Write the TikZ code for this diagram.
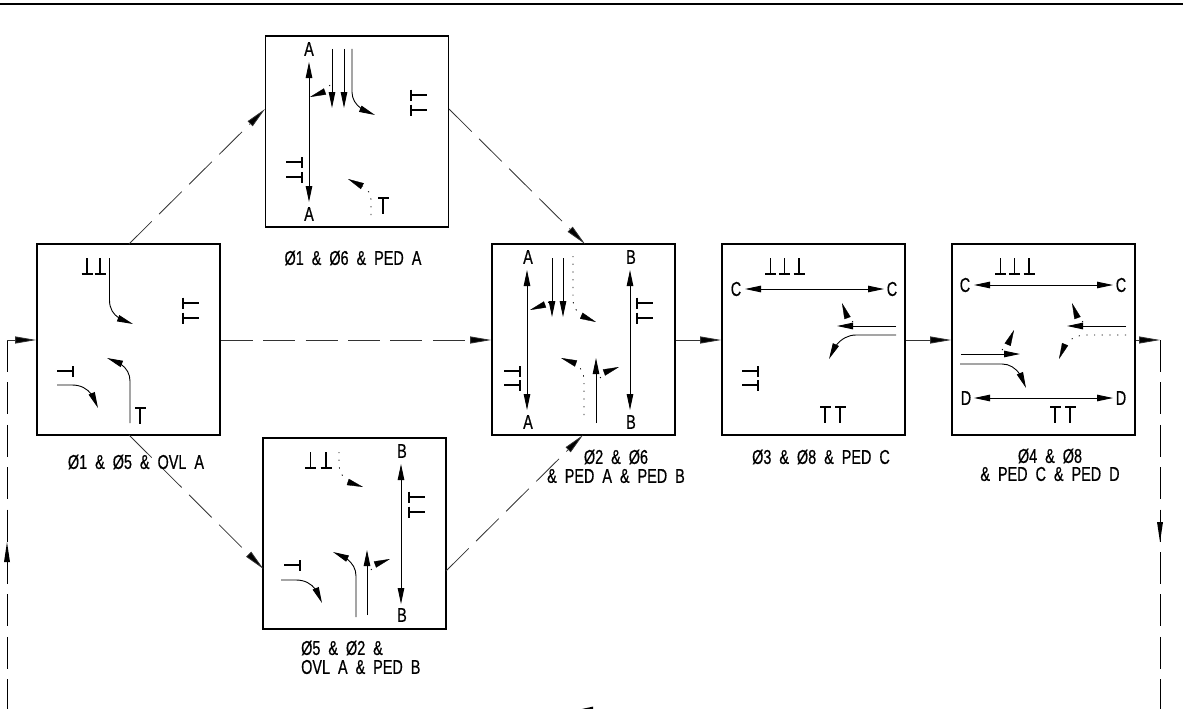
\documentclass[tikz,border=0pt]{standalone}
\usepackage{fontspec}
\setmainfont[FakeStretch=0.72,FakeBold=0.6]{Liberation Sans}
\usetikzlibrary{arrows.meta,bending}
\tikzset{
  x=1pt,y=-1pt,
  panel/.style={draw=black,line width=1.6pt,minimum width=183pt,minimum height=191pt,inner sep=0pt},
  capt/.style={font=\fontsize{20}{20}\selectfont,inner sep=0pt,anchor=center,text=black},
  letter/.style={font=\fontsize{20}{20}\selectfont,inner sep=0pt,anchor=center},
  flow/.style={line width=.8pt,draw=black!80,-{Triangle[length=21pt,width=7pt,fill=black]}},
  dashflow/.style={flow,dash pattern=on 32pt off 10.4pt},
  lane/.style={line width=.9pt,-{Triangle[length=16pt,width=6.5pt,flex=.8]}},
  twoway/.style={line width=.9pt,{Triangle[length=16pt,width=6.5pt]}-{Triangle[length=16pt,width=6.5pt]}},
  dotlane/.style={line width=.8pt,dash pattern=on 1.2pt off 6.5pt},
  headonly/.style={line width=.3pt,-{Triangle[length=16pt,width=6.5pt]}},
  stem/.style={line width=1.3pt},
  tbar/.style={line width=2pt},
}
\newcommand\ped[3]{%
  \draw[stem,shift={(#1,#2)},rotate=#3] (0,0) -- (0,-16);
  \draw[tbar,shift={(#1,#2)},rotate=#3] (-5.5,0) -- (5.5,0);}
\newcommand\dia{Ø}
\begin{document}
\begin{tikzpicture}
\useasboundingbox (0,0) rectangle (1183,709);
\fill[black] (0,2.6) rectangle (1183,5);
% panels
\node[panel] (p1) at (128.5,339.5) {};
\node[panel] (p2) at (357,131.5) {};
\node[panel] (p3) at (583.5,339.5) {};
\node[panel] (p4) at (354.5,533.5) {};
\node[panel] (p5) at (813.5,339.5) {};
\node[panel] (p6) at (1043.5,339.5) {};
% connector ends
\coordinate (up1) at (129,244);
\coordinate (up2) at (265,109);
\coordinate (up3) at (449,109);
\coordinate (up4) at (585,244);
\coordinate (dn1) at (129,435);
\coordinate (dn2) at (263.5,569);
\coordinate (dn3) at (446,571);
\coordinate (dn4) at (583,435);
\coordinate (rcorner) at (1160,340);
\coordinate (rend) at (1160,709);
\coordinate (lcorner) at (7,340);
\coordinate (lend) at (7,709);
\coordinate (rarrow) at (1160,542);
\coordinate (larrow) at (7,542);
\coordinate (p1w) at (p1.west|-lcorner);
\coordinate (p1e) at (p1.east|-lcorner);
\coordinate (p3w) at (p3.west|-lcorner);
\coordinate (p3e) at (p3.east|-lcorner);
\coordinate (p5w) at (p5.west|-lcorner);
\coordinate (p5e) at (p5.east|-lcorner);
\coordinate (p6w) at (p6.west|-lcorner);
\coordinate (p6e) at (p6.east|-lcorner);
\draw[dashflow] (up1) -- (up2);
\draw[dashflow] (up3) -- (up4);
\draw[dashflow] (dn1) -- (dn2);
\draw[dashflow] (dn3) -- (dn4);
\draw[dashflow] (p1e) -- (p3w);
\draw[flow] (p3e) -- (p5w);
\draw[flow] (p5e) -- (p6w);
\draw[flow] (p6e) -- (rcorner);
\draw[line width=.8pt,dash pattern=on 32pt off 10.4pt] (rcorner) -- (rend);
\draw[line width=.8pt,dash pattern=on 32pt off 10.4pt] (lcorner) -- (lend);
\draw[flow] (lcorner) -- (p1w);
\fill (rarrow) -- ++(-3,-20) -- ++(6,0) -- cycle;
\fill (larrow) -- ++(-3,20) -- ++(6,0) -- cycle;
\coordinate (btip) at (580,709.4);
\fill (btip) -- (593,706.6) -- (593,709.4) -- cycle;
% panel 1
\ped{87}{274}{0}\ped{100}{274}{0}
\draw[lane] (109.5,258) -- (109.5,300) .. controls (109.5,314) and (119,320) .. (133,324);
\ped{183}{303}{-90}\ped{183}{318}{-90}
\ped{73}{371}{90}
\draw[lane] (57,385) -- (72,385) .. controls (86,385) and (94,394) .. (98,408);
\draw[lane] (130,423) -- (130,381) .. controls (130,370) and (122,362) .. (107,358);
\ped{140}{407.5}{180}
\node[capt] (c1) at (136,462) {\dia1\ \ \&\ \ \dia5\ \ \&\ \ OVL\ \ A};
% panel 2
\node[letter] (a2t) at (309,49) {A};
\node[letter] (a2b) at (309,214) {A};
\draw[twoway] (309,62) -- (309,202);
\draw[lane] (332,49) -- (332,108);
\draw[lane] (344,49) -- (344,108);
\draw[lane] (352,49) -- (352,92) .. controls (352,103) and (361,111) .. (375,115);
\draw[dotlane] (330,85) -- (327,89);
\draw[headonly] (325,91.5) -- (310,97);
\ped{411}{95}{-90}\ped{411}{110}{-90}
\ped{302}{162}{90}\ped{302}{177}{90}
\draw[dotlane] (371,215) -- (371,200) .. controls (371,194) and (368,190) .. (365,188);
\draw[headonly] (363,186.5) -- (348,179);
\ped{383}{198}{180}
\node[capt] (c2) at (353,258) {\dia1\ \ \&\ \ \dia6\ \ \&\ \ PED\ \ A};
% panel 3
\node[letter] (a3t) at (528,257) {A};
\node[letter] (a3b) at (528,422) {A};
\node[letter] (b3t) at (631,257) {B};
\node[letter] (b3b) at (631,422) {B};
\draw[twoway] (527,270) -- (527,410);
\draw[twoway] (630,270) -- (630,410);
\draw[lane] (552,258) -- (552,317);
\draw[lane] (563,258) -- (563,317);
\draw[dotlane] (549,302) -- (548,303);
\draw[headonly] (545,304.5) -- (530,310);
\draw[dotlane] (573,256) -- (573,300) .. controls (573,306) and (576,311) .. (580,314);
\draw[headonly] (582,316) -- (596,322);
\ped{637}{303}{-90}\ped{637}{318}{-90}
\ped{520}{371}{90}\ped{520}{385}{90}
\draw[lane] (596,423) -- (596,358);
\draw[dotlane] (584,415) -- (584,380) .. controls (584,374) and (581,368) .. (578,366);
\draw[headonly] (576,363.5) -- (561,358);
\draw[dotlane] (600,378) -- (602,376);
\draw[headonly] (604,372.5) -- (619,367);
\node[capt] (c3a) at (616,457) {\dia2\ \ \&\ \ \dia6};
\node[capt] (c3b) at (616,476) {\&\ \ PED\ \ A\ \ \&\ \ PED\ \ B};
% panel 4
\ped{310.5}{468}{0}\ped{326}{468}{0}
\draw[dotlane] (339,452) -- (339,464) .. controls (339,471) and (342,476) .. (346,480);
\draw[headonly] (348,482) -- (363,487);
\node[letter] (b4t) at (402,451) {B};
\node[letter] (b4b) at (402,615) {B};
\draw[twoway] (401,464) -- (401,604);
\ped{409}{497}{-90}\ped{409}{512}{-90}
\ped{300}{565}{90}
\draw[lane] (281,580) -- (296,580) .. controls (310,580) and (318,589) .. (322,603);
\draw[lane] (356,617) -- (356,576) .. controls (356,565) and (348,557) .. (333,552);
\draw[lane] (367,615) -- (367,550);
\draw[dotlane] (371,570) -- (373,567);
\draw[headonly] (375,564.5) -- (390,559);
\node[capt,anchor=west] (c4a) at (301,648) {\dia5\ \ \&\ \ \dia2\ \ \&};
\node[capt,anchor=west] (c4b) at (301,667) {OVL\ \ A\ \ \&\ \ PED\ \ B};
% panel 5
\ped{770.5}{274}{0}\ped{784.5}{274}{0}\ped{799}{274}{0}
\node[letter] (c5l) at (736,289) {C};
\node[letter] (c5r) at (892,289) {C};
\draw[twoway] (745,289) -- (884,289);
\draw[lane] (896,326) -- (837,326);
\draw[dotlane] (853,322) -- (851,320.5);
\draw[headonly] (847.5,318) -- (842,303);
\draw[lane] (896,335) -- (856,335) .. controls (844,335) and (834,344) .. (829,359);
\ped{758}{371}{90}\ped{758}{385}{90}
\ped{825}{407}{180}\ped{840}{407}{180}
\node[capt] (c5) at (821,457) {\dia3\ \ \&\ \ \dia8\ \ \&\ \ PED\ \ C};
% panel 6
\ped{1000.5}{274}{0}\ped{1014.5}{274}{0}\ped{1029}{274}{0}
\node[letter] (c6l) at (965,285) {C};
\node[letter] (c6r) at (1121,285) {C};
\draw[twoway] (974,285) -- (1113,285);
\draw[lane] (1126,326) -- (1067,326);
\draw[dotlane] (1083,322) -- (1081,320.5);
\draw[headonly] (1077.5,318) -- (1072,303);
\draw[dotlane] (1126,335) -- (1086,335) .. controls (1078,335) and (1072,338) .. (1068,342);
\draw[headonly] (1065,344.5) -- (1059,359);
\draw[lane] (961,354) -- (1020,354);
\draw[dotlane] (1002,350) -- (1004,348);
\draw[headonly] (1007.5,345) -- (1014,330);
\draw[lane] (960,364) -- (1002,364) .. controls (1014,364) and (1022,374) .. (1026,388);
\node[letter] (d6l) at (966,398) {D};
\node[letter] (d6r) at (1121,398) {D};
\draw[twoway] (974,398) -- (1113,398);
\ped{1055}{407}{180}\ped{1070}{407}{180}
\node[capt] (c6a) at (1050,456) {\dia4\ \ \&\ \ \dia8};
\node[capt] (c6b) at (1050,474) {\&\ \ PED\ \ C\ \ \&\ \ PED\ \ D};
\end{tikzpicture}
\end{document}
